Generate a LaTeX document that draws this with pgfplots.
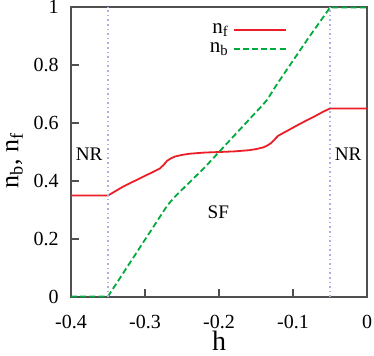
\documentclass[border=0pt]{standalone}
\usepackage{fontspec}
\setmainfont{Liberation Serif}
\usepackage{pgfplots}
\pgfplotsset{compat=1.18}
\definecolor{nfred}{RGB}{235,30,40}
\definecolor{nbgreen}{RGB}{0,170,60}
\definecolor{borderline}{RGB}{175,175,230}
\definecolor{framegray}{RGB}{80,80,80}

\begin{document}
\begin{tikzpicture}
  \begin{axis}[
      scale only axis,
      width=148pt, height=145pt,
      xmin=-0.4, xmax=0,
      ymin=0, ymax=1,
      clip=false,
      xtick={-0.4,-0.3,-0.2,-0.1,0},
      xticklabels={-0.4,-0.3,-0.2,-0.1,0},
      ytick={0,0.2,0.4,0.6,0.8,1},
      yticklabels={0,0.2,0.4,0.6,0.8,1},
      tick align=inside,
      xtick pos=bottom, ytick pos=left,
      major tick length=4pt,
      tick style={framegray, line width=0.6pt},
      axis line style={framegray, line width=0.8pt},
      tick label style={font=\rmfamily\fontsize{10}{12}\selectfont, inner sep=0pt},
      xticklabel style={anchor=center, yshift=-12.5pt},
      yticklabel style={anchor=east, xshift=-6pt},
      xlabel={h},
      xlabel style={at={(axis description cs:0.5,0)}, anchor=center, yshift=-22.1pt,
        inner sep=0pt, font=\fontsize{14}{15}\selectfont},
      ylabel={n\textsubscript{b}, n\textsubscript{f}},
      ylabel style={at={(axis description cs:0,0.47)}, anchor=center, yshift=28.3pt,
        inner sep=0pt, font=\fontsize{13}{15}\selectfont},
      legend style={draw=none, fill=none, at={(rel axis cs:0.75,0.972)}, anchor=north east,
        font=\fontsize{10.5}{12}\selectfont, row sep=-1pt},
      legend cell align=right,
      legend plot pos=right,
      legend image code/.code={\draw[#1] (0pt,0pt) -- (26pt,0pt);},
    ]
    \addplot[nfred, line width=0.9pt] coordinates {
      (-0.40,0.350) (-0.35,0.350) (-0.34,0.365) (-0.33,0.380) (-0.32,0.393)
      (-0.31,0.405) (-0.30,0.418) (-0.29,0.430) (-0.28,0.443) (-0.275,0.455)
      (-0.27,0.470) (-0.265,0.478) (-0.26,0.484) (-0.25,0.490) (-0.24,0.494)
      (-0.22,0.498) (-0.20,0.500) (-0.18,0.502) (-0.16,0.506) (-0.15,0.510)
      (-0.14,0.516) (-0.135,0.522) (-0.13,0.530) (-0.125,0.543) (-0.12,0.556)
      (-0.11,0.570) (-0.10,0.584) (-0.09,0.598) (-0.08,0.611) (-0.07,0.624)
      (-0.06,0.638) (-0.05,0.650) (0,0.650)
    };
    \addlegendentry{n\textsubscript{f}}
    \addplot[nbgreen, line width=0.9pt, dash pattern=on 3pt off 1.6pt] coordinates {
      (-0.40,0.002) (-0.35,0.002) (-0.27,0.315) (-0.26,0.345) (-0.24,0.395)
      (-0.22,0.445) (-0.20,0.500) (-0.18,0.555) (-0.16,0.610) (-0.14,0.665)
      (-0.135,0.680) (-0.12,0.740) (-0.10,0.815) (-0.08,0.890) (-0.06,0.962)
      (-0.05,0.998) (0,0.998)
    };
    \addlegendentry{n\textsubscript{b}}
    \addplot[borderline, line width=0.7pt, dash pattern=on 0.8pt off 1.5pt, forget plot] coordinates {(-0.35,0) (-0.35,1)};
    \addplot[borderline, line width=0.7pt, dash pattern=on 0.8pt off 1.5pt, forget plot] coordinates {(-0.05,0) (-0.05,1)};
    \node[font=\fontsize{9.6}{12}\selectfont] at (axis cs:-0.3755,0.493) {NR};
    \node[font=\fontsize{9.6}{12}\selectfont] at (axis cs:-0.0255,0.493) {NR};
    \node[font=\fontsize{9.6}{12}\selectfont] at (axis cs:-0.201,0.293) {SF};
  \end{axis}
  \pgfresetboundingbox
  \path[use as bounding box] ([shift={(-35.5pt,-29pt)}]current axis.south west)
    rectangle ([shift={(3.5pt,3.5pt)}]current axis.north east);
\end{tikzpicture}
\end{document}
